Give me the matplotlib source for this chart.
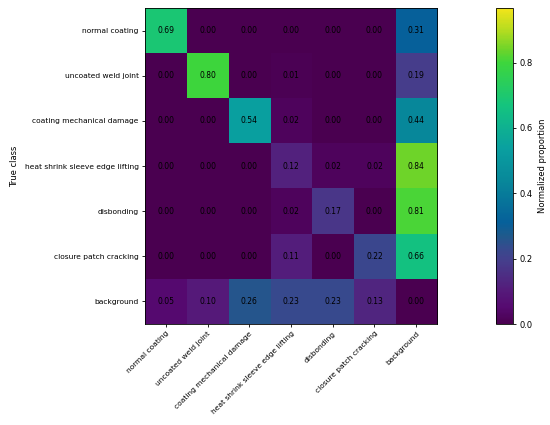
import numpy as np
import matplotlib
matplotlib.use("Agg")
import matplotlib.pyplot as plt
from matplotlib.colors import LinearSegmentedColormap

classes = ["normal coating", "uncoated weld joint", "coating mechanical damage",
           "heat shrink sleeve edge lifting", "disbonding", "closure patch cracking",
           "background"]
row_normal = [0.69, 0.00, 0.00, 0.00, 0.00, 0.00, 0.31]
row_weld = [0.00, 0.80, 0.00, 0.01, 0.00, 0.00, 0.19]
row_damage = [0.00, 0.00, 0.54, 0.02, 0.00, 0.00, 0.44]
row_sleeve = [0.00, 0.00, 0.00, 0.12, 0.02, 0.02, 0.84]
row_disbond = [0.00, 0.00, 0.00, 0.02, 0.17, 0.00, 0.81]
row_patch = [0.00, 0.00, 0.00, 0.11, 0.00, 0.22, 0.66]
row_bg = [0.05, 0.10, 0.26, 0.23, 0.23, 0.13, 0.00]
cbar_ticks = [0.0, 0.2, 0.4, 0.6, 0.8]
vmax = 0.967

M = np.array([row_normal, row_weld, row_damage, row_sleeve, row_disbond, row_patch, row_bg])

# viridis-like map as rendered in the reference (more saturated)
cmap_stops = [0.00, 0.05, 0.10, 0.19, 0.23, 0.27, 0.31, 0.44, 0.54, 0.67, 0.80, 0.84, 0.90, vmax]
cmap_colors = ["#4a0050", "#560a70", "#551a7a", "#463e8c", "#374a8e", "#1e5a8c",
               "#06609a", "#08889a", "#0aa0a0", "#14c47e", "#3dd63d", "#6cd42a",
               "#b4dc20", "#f2e41a"]
cmap = LinearSegmentedColormap.from_list(
    "ref_viridis", [(s / vmax, c) for s, c in zip(cmap_stops, cmap_colors)])

fig = plt.figure(figsize=(5.5, 4.25), dpi=100)
ax = fig.add_axes([0.2636, 0.2376, 0.531, 0.7434])
cax = fig.add_axes([0.9018, 0.2376, 0.031, 0.7434])
im = ax.imshow(M, cmap=cmap, vmin=0.0, vmax=vmax, aspect="auto")
for i in range(M.shape[0]):
    for j in range(M.shape[1]):
        ax.text(j, i, f"{M[i, j]:.2f}", ha="center", va="center", fontsize=5.5, color="black")
ax.set_xticks(range(len(classes)))
ax.set_yticks(range(len(classes)))
ax.set_xticklabels(classes, rotation=45, ha="right", rotation_mode="anchor", fontsize=5.4)
ax.set_yticklabels(classes, fontsize=5.4)
ax.set_ylabel("True class", fontsize=6)
ax.tick_params(length=2.5, width=0.6, pad=2)
for s in ax.spines.values():
    s.set_linewidth(0.6)
cb = fig.colorbar(im, cax=cax, ticks=cbar_ticks)
cb.ax.tick_params(labelsize=6, length=2.5, width=0.6, pad=2)
cb.set_label("Normalized proportion", fontsize=6)
cb.outline.set_linewidth(0.6)
fig.savefig("out.png", dpi=100)
